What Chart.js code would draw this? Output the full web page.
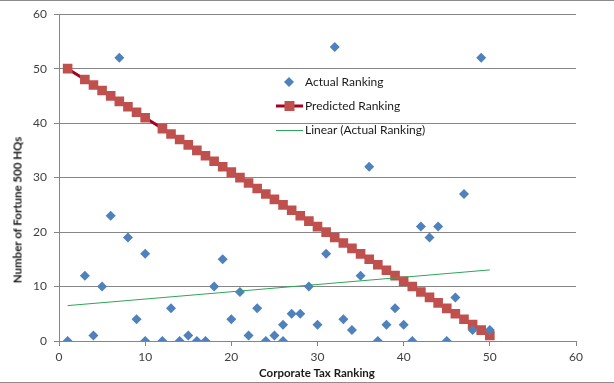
<!DOCTYPE html>
<html>
<head>
<meta charset="utf-8">
<script src="https://cdn.jsdelivr.net/npm/chart.js@4/dist/chart.umd.min.js"></script>
<style>
  html, body { margin: 0; padding: 0; background: #ffffff; }
  #wrap { position: relative; width: 614px; height: 383px; overflow: hidden; font-family: Lato, "Open Sans", sans-serif; }
  #c { position: absolute; left: 0; top: 0; }
  .bt { position: absolute; left: 0; width: 614px; height: 1px; background: #8c8c8c; }
  .lg { position: absolute; left: 275px; font-size: 12px; color: #1a1a1a; white-space: nowrap; line-height: 14px; }
  .lg svg { position: absolute; left: 0; top: 0; }
  .lg span { position: absolute; left: 30px; top: 0; }
  #xt { position: absolute; left: 0; width: 634px; top: 366px; text-align: center; font-weight: bold; font-size: 11.5px; color: #1a1a1a; }
  #yt { position: absolute; left: 17px; top: 210px; transform: translate(-50%, -50%) rotate(-90deg); font-weight: bold; font-size: 11.5px; color: #1a1a1a; white-space: nowrap; }
</style>
</head>
<body>
<div id="wrap">
  <canvas id="c" width="614" height="383"></canvas>
  <div class="bt" style="top:0"></div>
  <div class="bt" style="top:382px"></div>
  <div class="lg" style="top:75px;height:14px;width:200px">
    <svg width="28" height="14"><polygon points="14,2 19,7 14,12 9,7" fill="#4F81BD"/></svg>
    <span>Actual Ranking</span>
  </div>
  <div class="lg" style="top:99px;height:14px;width:200px">
    <svg width="28" height="14"><line x1="1" y1="7" x2="28" y2="7" stroke="#A50021" stroke-width="3"/><rect x="9.5" y="2" width="10" height="10" fill="#C0504D"/></svg>
    <span>Predicted Ranking</span>
  </div>
  <div class="lg" style="top:123px;height:14px;width:200px">
    <svg width="28" height="14"><line x1="1" y1="7.5" x2="28" y2="7.5" stroke="#2FA55A" stroke-width="1"/></svg>
    <span>Linear (Actual Ranking)</span>
  </div>
  <div id="xt">Corporate Tax Ranking</div>
  <div id="yt">Number of Fortune 500 HQs</div>
</div>
<script>
// ---- data ----
const actualX = [1, 3, 4, 5, 6, 7, 8, 9, 10, 10, 12, 13, 14, 15, 16, 17, 18, 19, 20, 21, 22, 23, 24, 25, 26, 26, 27, 28, 29, 30, 31, 32, 33, 34, 35, 36, 37, 38, 39, 40, 41, 42, 43, 44, 45, 46, 47, 48, 49, 50];
const actualY = [0, 12, 1, 10, 23, 52, 19, 4, 16, 0, 0, 6, 0, 1, 0, 0, 10, 15, 4, 9, 1, 6, 0, 1, 3, 0, 5, 5, 10, 3, 16, 54, 4, 2, 12, 32, 0, 3, 6, 3, 0, 21, 19, 21, 0, 8, 27, 2, 52, 2];
const predictedX = [1, 3, 4, 5, 6, 7, 8, 9, 10, 12, 13, 14, 15, 16, 17, 18, 19, 20, 21, 22, 23, 24, 25, 26, 27, 28, 29, 30, 31, 32, 33, 34, 35, 36, 37, 38, 39, 40, 41, 42, 43, 44, 45, 46, 47, 48, 49, 50];
const predictedY = [50, 48, 47, 46, 45, 44, 43, 42, 41, 39, 38, 37, 36, 35, 34, 33, 32, 31, 30, 29, 28, 27, 26, 25, 24, 23, 22, 21, 20, 19, 18, 17, 16, 15, 14, 13, 12, 11, 10, 9, 8, 7, 6, 5, 4, 3, 2, 1];
const trendX = [1, 50];
const trendY = [6.5, 13.05];
const xTicks = [0, 10, 20, 30, 40, 50, 60];
const yTicks = [0, 10, 20, 30, 40, 50, 60];

const pts = (xs, ys) => xs.map((x, i) => ({ x: x, y: ys[i] }));

const tickFont = { family: 'Lato, "Open Sans", sans-serif', size: 12 };
const axisGray = '#868686';

new Chart(document.getElementById('c'), {
  type: 'scatter',
  data: {
    datasets: [
      {
        label: 'Linear (Actual Ranking)',
        data: pts(trendX, trendY),
        showLine: true,
        borderColor: '#2FA55A',
        borderWidth: 1,
        pointRadius: 0,
        order: 0
      },
      {
        label: 'Actual Ranking',
        data: pts(actualX, actualY),
        pointStyle: 'rectRot',
        pointRadius: 5,
        backgroundColor: '#4F81BD',
        borderColor: '#4F81BD',
        borderWidth: 0,
        showLine: false,
        order: 1
      },
      {
        label: 'Predicted Ranking',
        data: pts(predictedX, predictedY),
        showLine: true,
        borderColor: '#A50021',
        borderWidth: 3,
        pointStyle: 'rect',
        pointRadius: 6.8,
        pointBackgroundColor: '#C0504D',
        pointBorderColor: '#C0504D',
        pointBorderWidth: 0,
        order: 2
      }
    ]
  },
  options: {
    responsive: false,
    animation: false,
    devicePixelRatio: 1,
    layout: { padding: { left: 0, top: 10, right: 38, bottom: 0 } },
    plugins: { legend: { display: false }, title: { display: false }, tooltip: { enabled: false } },
    scales: {
      x: {
        type: 'linear',
        min: 0, max: 60,
        afterBuildTicks: (s) => { s.ticks = xTicks.map(v => ({ value: v })); },
        afterFit: (s) => { s.height = 42; },
        ticks: { font: tickFont, color: '#404040', padding: 4, maxRotation: 0 },
        grid: { drawOnChartArea: false, drawTicks: true, tickLength: 5, color: axisGray },
        border: { color: axisGray, width: 1 },
        title: { display: false }
      },
      y: {
        type: 'linear',
        min: 0, max: 60,
        afterBuildTicks: (s) => { s.ticks = yTicks.map(v => ({ value: v })); },
        afterFit: (s) => { s.width = 59; },
        ticks: { font: tickFont, color: '#404040', padding: 7 },
        grid: { drawTicks: true, tickLength: 5, color: axisGray, lineWidth: 1 },
        border: { color: axisGray, width: 1 },
        title: { display: false }
      }
    }
  }
});
</script>
</body>
</html>
